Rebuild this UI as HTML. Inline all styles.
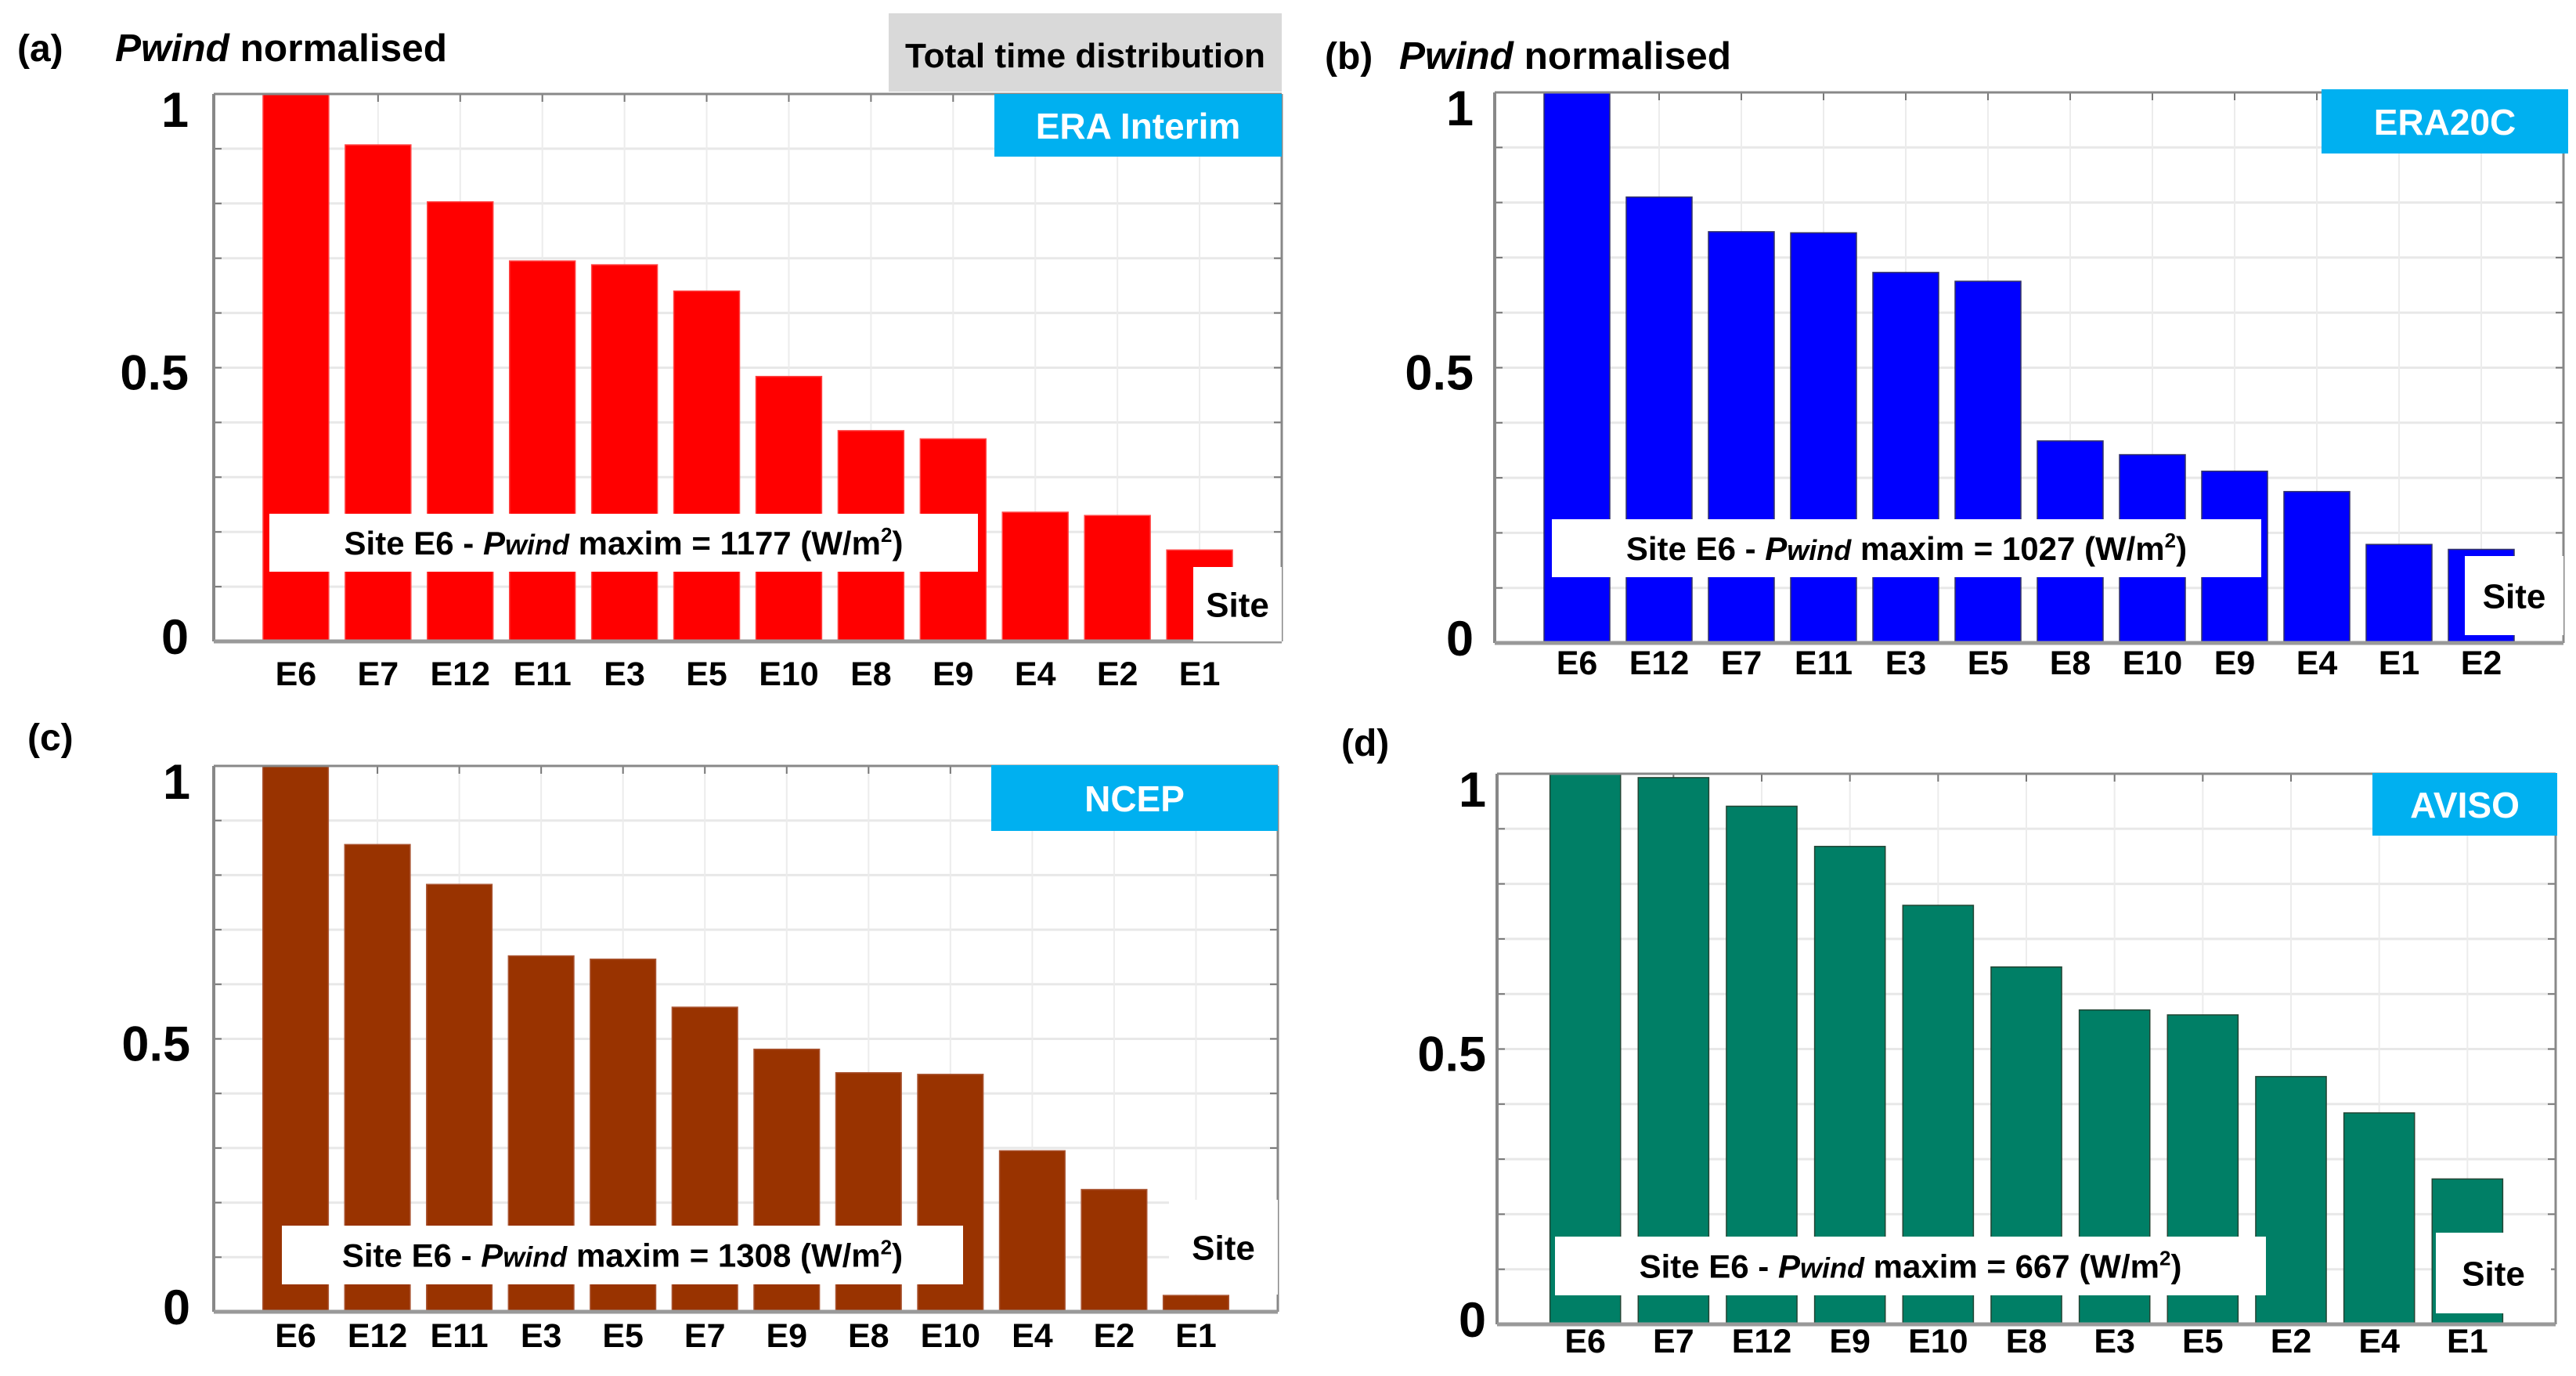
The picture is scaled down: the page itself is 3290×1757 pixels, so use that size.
<!DOCTYPE html>
<html><head><meta charset="utf-8"><style>
html,body{margin:0;padding:0;background:#fff;}
svg{display:block;font-family:"Liberation Sans",Arial,sans-serif;}
</style></head><body>
<svg id="fig" width="3290" height="1757" viewBox="0 0 3290 1757" xmlns="http://www.w3.org/2000/svg"></svg>
<script>
const catsA = ["E6","E7","E12","E11","E3","E5","E10","E8","E9","E4","E2","E1"];
const valsA = [1,0.907,0.803,0.695,0.688,0.640,0.484,0.385,0.370,0.236,0.230,0.167];
const catsB = ["E6","E12","E7","E11","E3","E5","E8","E10","E9","E4","E1","E2"];
const valsB = [1,0.810,0.747,0.745,0.673,0.657,0.367,0.342,0.312,0.275,0.179,0.170];
const catsC = ["E6","E12","E11","E3","E5","E7","E9","E8","E10","E4","E2","E1"];
const valsC = [1,0.856,0.783,0.652,0.646,0.558,0.481,0.438,0.435,0.295,0.224,0.030];
const catsD = ["E6","E7","E12","E9","E10","E8","E3","E5","E2","E4","E1"];
const valsD = [1,0.993,0.941,0.868,0.761,0.649,0.571,0.562,0.450,0.384,0.264];
const yTickVals = [0,0.5,1];
const yTickLabels = ["0","0.5","1"];
const maxLabels = ["1177","1027","1308","667"];

const NS = "http://www.w3.org/2000/svg";
const svg = document.getElementById('fig');
function mk(tag, attrs, parent, text){
  const e = document.createElementNS(NS, tag);
  for (const k in attrs) e.setAttribute(k, attrs[k]);
  if (text !== undefined) e.textContent = text;
  (parent||svg).appendChild(e);
  return e;
}

const panels = [
  {id:'a', cats:catsA, vals:valsA, color:'#ff0000', edge:'#ff4444', L:273, R:1637, T:120, B:819, slots:13,
   letter:'(a)', lx:22, ly:78, titleX:147, titleY:78, showTitle:true,
   tag:'ERA Interim', tagBox:[1270,120,367,80],
   lab:[344,656,905,74], site:[1524,724,113,95], tickRX:241, xlY:860},
  {id:'b', cats:catsB, vals:valsB, color:'#0000ff', edge:'#333366', L:1909, R:3274, T:118, B:821, slots:13,
   letter:'(b)', lx:1692, ly:88, titleX:1787, titleY:88, showTitle:true,
   tag:'ERA20C', tagBox:[2965,114,315,82],
   lab:[1982,663,906,74], site:[3148,710,126,101], tickRX:1882, xlY:846},
  {id:'c', cats:catsC, vals:valsC, color:'#993300', edge:'#aa5533', L:273, R:1632, T:978, B:1675, slots:13,
   letter:'(c)', lx:35, ly:958, showTitle:false,
   tag:'NCEP', tagBox:[1266,977,366,84],
   lab:[360,1565,870,75], site:[1493,1532,139,121], tickRX:243, xlY:1705},
  {id:'d', cats:catsD, vals:valsD, color:'#007f66', edge:'#224433', L:1912, R:3264, T:988, B:1691, slots:12,
   letter:'(d)', lx:1713, ly:965, showTitle:false,
   tag:'AVISO', tagBox:[3030,987,236,80],
   lab:[1986,1579,908,75], site:[3111,1574,147,103], tickRX:1898, xlY:1712}
];

// gray "Total time distribution" box
const gb = mk('g', {}, svg);


mk('rect',{x:1135,y:17,width:502,height:100,fill:'#d9d9d9'},gb);
mk('text',{x:1386,y:86,'text-anchor':'middle','font-size':44,'font-weight':'bold',fill:'#000',textLength:460,lengthAdjust:'spacingAndGlyphs'},gb,'Total time distribution');

panels.forEach((p, pi) => {
  const g = mk('g', {}, svg);
  
  
  const slotW = (p.R - p.L) / p.slots;
  const xC = i => p.L + (i+1)*slotW;
  const yS = v => p.B - v*(p.B - p.T);

  // grid
  const grid = mk('g',{},g);
  
  
  for (let k=1;k<10;k++){
    const y=yS(k/10);
    mk('line',{x1:p.L,x2:p.R,y1:y,y2:y,stroke:'#e8e8e8','stroke-width':3},grid);
    mk('line',{x1:p.L,x2:p.L+10,y1:y,y2:y,stroke:'#777','stroke-width':2},grid);
    mk('line',{x1:p.R-10,x2:p.R,y1:y,y2:y,stroke:'#777','stroke-width':2},grid);
  }
  for (let k=1;k<p.slots;k++){
    const x=p.L+k*slotW;
    mk('line',{x1:x,x2:x,y1:p.T,y2:p.B,stroke:'#ececec','stroke-width':2},grid);
    mk('line',{x1:x,x2:x,y1:p.T,y2:p.T+10,stroke:'#777','stroke-width':2},grid);
  }

  // bars
  const bw = slotW*0.8;
  p.vals.forEach((v,i)=>{
    const b = mk('rect',{x:xC(i)-bw/2,y:yS(v),width:bw,height:p.B-yS(v),fill:p.color,stroke:p.edge,'stroke-width':1.5},g);
    
    
  });

  // axes frame
  const ax = mk('g',{},g);
  
  
  mk('line',{x1:p.L,x2:p.R,y1:p.T,y2:p.T,stroke:'#888','stroke-width':3},ax);
  mk('line',{x1:p.R,x2:p.R,y1:p.T,y2:p.B,stroke:'#888','stroke-width':3},ax);
  mk('line',{x1:p.L,x2:p.L,y1:p.T,y2:p.B,stroke:'#888','stroke-width':4},ax);
  mk('line',{x1:p.L,x2:p.R,y1:p.B,y2:p.B,stroke:'#999','stroke-width':5},ax);

  // y tick labels
  yTickVals.forEach((v,i)=>{
    const off = v===1?20:(v===0?-6:6);
    const t = mk('text',{x:p.tickRX,y:yS(v)+off+22,'text-anchor':'end','font-size':63,'font-weight':'bold',fill:'#000'},g,yTickLabels[i]);
    
    
  });

  // x labels
  p.cats.forEach((c,i)=>{
    const t = mk('text',{x:xC(i),y:p.xlY+15,'text-anchor':'middle','font-size':43,'font-weight':'bold',fill:'#000'},g,c);
    
    
  });

  // panel letter
  const lt = mk('text',{x:p.lx,y:p.ly,'font-size':48,fill:'#000','font-weight':'bold'},g,p.letter);
  
  

  if (p.showTitle){
    const tt = mk('text',{x:p.titleX,y:p.titleY,'font-size':49,'font-weight':'bold',fill:'#000',textLength:424,lengthAdjust:'spacingAndGlyphs'},g);
    
    
    mk('tspan',{'font-style':'italic'},tt,'Pwind');
    mk('tspan',{},tt,' normalised');
  }

  // dataset tag
  const tg = mk('g',{},g);
  
  
  const tb=p.tagBox;
  mk('rect',{x:tb[0],y:tb[1],width:tb[2],height:tb[3],fill:'#00b0f0'},tg);
  mk('text',{x:tb[0]+tb[2]/2,y:tb[1]+tb[3]/2+17,'text-anchor':'middle','font-size':46,'font-weight':'bold',fill:'#fff'},tg,p.tag);

  // max label box
  const lb = mk('g',{},g);
  
  
  const l=p.lab;
  mk('rect',{x:l[0],y:l[1],width:l[2],height:l[3],fill:'#fff'},lb);
  const mt = mk('text',{x:l[0]+l[2]/2,y:l[1]+l[3]/2+15,'text-anchor':'middle','font-size':42,'font-weight':'bold',fill:'#000'},lb);
  mk('tspan',{},mt,'Site E6 - ');
  mk('tspan',{'font-style':'italic'},mt,'P');
  mk('tspan',{'font-style':'italic','font-size':36},mt,'wind');
  mk('tspan',{},mt,'  maxim = '+maxLabels[pi]+' (W/m');
  mk('tspan',{'font-size':26,dy:-16},mt,'2');
  mk('tspan',{dy:16},mt,')');

  // site box
  const sb = mk('g',{},g);
  
  
  const s=p.site;
  mk('rect',{x:s[0],y:s[1],width:s[2],height:s[3],fill:'#fff'},sb);
  mk('text',{x:s[0]+s[2]/2,y:s[1]+s[3]/2+16,'text-anchor':'middle','font-size':44,'font-weight':'bold',fill:'#000'},sb,'Site');
});
</script>
</body></html>
